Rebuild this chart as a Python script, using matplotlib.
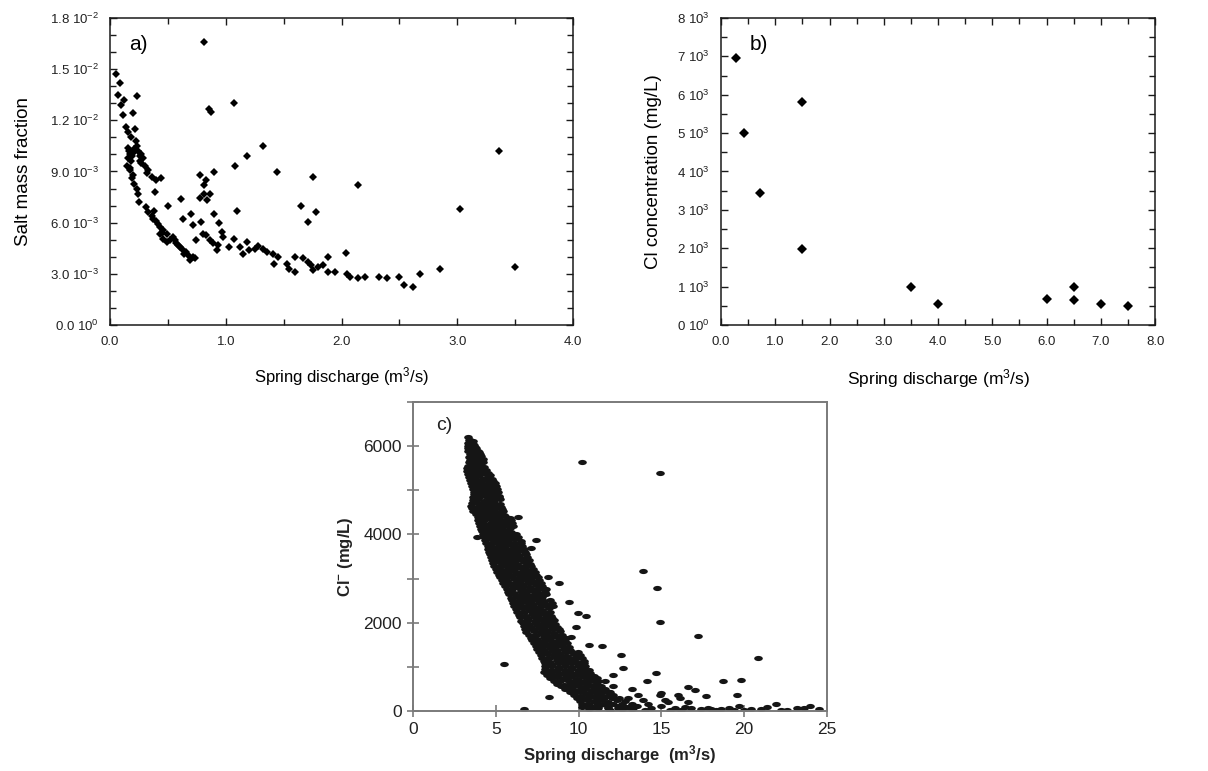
"""
Discharge vs. salinity scatter plots for the coastal karst spring.

  a) salt mass fraction (model)    b) Cl concentration (field samples)
  c) Cl- record over the whole monitoring period

Output: out.png
"""

import matplotlib.pyplot as plt
import numpy as np
from matplotlib.path import Path

plt.rcParams["font.family"] = ["Liberation Sans", "DejaVu Sans"]
plt.rcParams["mathtext.fontset"] = "custom"
plt.rcParams["mathtext.rm"] = "Liberation Sans"
plt.rcParams["mathtext.it"] = "Liberation Sans:italic"
plt.rcParams["mathtext.bf"] = "Liberation Sans:bold"

# ─────────────────────────────────────────────
# a) model: discharge (m3/s) vs salt mass fraction (x 1e-3)
# ─────────────────────────────────────────────
a_q = [
    0.055, 0.084, 0.069, 0.118, 0.098, 0.112, 0.23, 0.20, 0.135, 0.213,
    0.156, 0.18, 0.22, 0.23, 0.156, 0.17, 0.20, 0.256, 0.285, 0.156,
    0.150, 0.176, 0.30, 0.33, 0.20, 0.36, 0.44, 0.21, 0.24, 0.386,
    0.25, 0.31, 0.38, 0.36, 0.40, 0.43, 0.46, 0.49, 0.43, 0.46,
    0.49, 0.54, 0.56, 0.59, 0.62, 0.64, 0.69, 0.72, 0.73, 0.50,
    0.61, 0.63, 0.70, 0.72, 0.74, 0.78, 0.81, 0.83, 0.775, 0.81,
    0.86, 0.84, 0.90, 0.90, 0.79, 0.80, 0.83, 0.86, 0.89, 0.92,
    0.93, 0.94, 0.97, 0.98, 1.03, 1.07, 1.08, 1.10, 1.12, 1.15,
    1.18, 1.18, 1.20, 1.25, 1.28, 1.32, 1.32, 1.36, 1.41, 1.44,
    1.42, 1.45, 1.53, 1.55, 1.60, 1.60, 1.65, 1.71, 1.75, 1.78,
    1.67, 1.71, 1.74, 1.75, 1.80, 1.84, 1.88, 1.88, 1.94, 2.04,
    2.05, 2.07, 2.14, 2.14, 2.20, 2.32, 2.39, 2.50, 2.54, 2.62,
    2.68, 2.85, 3.02, 3.36, 3.50, 0.815, 0.855, 0.876, 1.07,
    0.16, 0.18, 0.19, 0.21, 0.24, 0.26, 0.27, 0.17, 0.19, 0.23,
    0.33, 0.37, 0.41, 0.45, 0.52, 0.57, 0.60, 0.66, 0.68, 0.27,
    0.32, 0.40,
]
a_salt_e3 = [
    14.7, 14.2, 13.5, 13.2, 12.9, 12.3, 13.45, 12.4, 11.6, 11.5,
    11.3, 11.0, 10.8, 10.5, 10.4, 10.0, 10.1, 9.9, 9.8, 9.8,
    9.35, 9.06, 9.35, 9.06, 8.77, 8.67, 8.6, 8.28, 7.7, 7.8,
    7.2, 6.9, 6.7, 6.4, 6.1, 5.75, 5.55, 5.36, 5.36, 5.07,
    4.87, 5.17, 4.97, 4.68, 4.48, 4.19, 3.8, 4.0, 3.9, 7.0,
    7.4, 6.2, 6.5, 5.85, 4.97, 8.8, 8.2, 8.5, 7.45, 7.7,
    7.65, 7.35, 8.97, 6.53, 6.04, 5.36, 5.26, 4.97, 4.78, 4.39,
    4.68, 5.95, 5.46, 5.17, 4.58, 5.07, 9.3, 6.7, 4.58, 4.19,
    4.87, 9.9, 4.39, 4.48, 4.62, 10.5, 4.48, 4.29, 4.19, 8.97,
    3.6, 4.0, 3.6, 3.3, 3.1, 4.0, 7.0, 6.04, 8.7, 6.63,
    3.9, 3.7, 3.5, 3.2, 3.4, 3.5, 4.0, 3.1, 3.1, 4.23,
    3.0, 2.83, 8.2, 2.73, 2.83, 2.79, 2.73, 2.79, 2.34, 2.2,
    3.0, 3.3, 6.8, 10.2, 3.42, 16.6, 12.67, 12.5, 13.0,
    10.2, 9.6, 9.9, 10.3, 10.2, 9.6, 10.0, 9.2, 8.6, 8.0,
    6.6, 6.2, 5.9, 5.4, 5.0, 4.8, 4.6, 4.3, 4.05, 9.5,
    8.9, 8.5,
]
a_yticks_e3 = [0, 3, 6, 9, 12, 15, 18]
a_yticklabels = [
    "0.0 10$^{0}$", "3.0 10$^{-3}$", "6.0 10$^{-3}$", "9.0 10$^{-3}$",
    "1.2 10$^{-2}$", "1.5 10$^{-2}$", "1.8 10$^{-2}$",
]
a_xticks = [0, 1, 2, 3, 4]
a_xticklabels = ["0.0", "1.0", "2.0", "3.0", "4.0"]

# ─────────────────────────────────────────────
# b) field samples: discharge (m3/s) vs Cl (mg/L)
# ─────────────────────────────────────────────
b_q = [0.27, 0.42, 0.71, 1.5, 1.5, 3.5, 4.0, 6.0, 6.5, 6.5, 7.0, 7.5]
b_cl = [6950, 5000, 3440, 5810, 1990, 985, 550, 680, 1000, 655, 550, 500]
b_yticks = [0, 1000, 2000, 3000, 4000, 5000, 6000, 7000, 8000]
b_yticklabels = ["0 10$^{0}$"] + [f"{k} 10$^{{3}}$" for k in range(1, 9)]
b_xticks = [0, 1, 2, 3, 4, 5, 6, 7, 8]
b_xticklabels = ["0.0", "1.0", "2.0", "3.0", "4.0", "5.0", "6.0", "7.0", "8.0"]

# ─────────────────────────────────────────────
# c) monitoring record: discharge (m3/s) vs Cl- (mg/L)
#    main band (row by row, top -> bottom), then scattered points
# ─────────────────────────────────────────────
c_q = [
    3.30, 3.45,
    3.38, 3.60,
    3.35, 3.55, 3.70,
    3.32, 3.48, 3.65, 3.82,
    3.30, 3.50, 3.72, 3.90,
    3.35, 3.55, 3.78, 3.98,
    3.42, 3.62, 3.85, 4.05,
    3.40, 3.58, 3.82, 4.10,
    3.45, 3.70, 3.95, 4.20,
    3.38, 3.62, 3.88, 4.12, 4.25,
    3.30, 3.55, 3.80, 4.05, 4.30,
    3.28, 3.45, 3.68, 3.92, 4.18, 4.42,
    3.25, 3.50, 3.75, 4.00, 4.30, 4.55,
    3.32, 3.58, 3.85, 4.10, 4.38, 4.65,
    3.40, 3.65, 3.95, 4.20, 4.50, 4.75,
    3.45, 3.72, 4.02, 4.30, 4.60, 4.85,
    3.50, 3.80, 4.10, 4.40, 4.70, 4.95,
    3.58, 3.88, 4.18, 4.48, 4.78, 5.02,
    3.65, 3.95, 4.25, 4.55, 4.85, 5.10,
    3.68, 3.98, 4.30, 4.60, 4.90, 5.15,
    3.70, 4.00, 4.35, 4.65, 4.95, 5.20,
    3.65, 3.98, 4.32, 4.62, 4.92, 5.22,
    3.60, 3.95, 4.30, 4.60, 4.90, 5.25,
    3.55, 3.90, 4.25, 4.58, 4.90, 5.28,
    3.50, 3.85, 4.20, 4.55, 4.90, 5.30,
    3.58, 3.92, 4.28, 4.62, 4.98, 5.38,
    3.65, 4.00, 4.35, 4.70, 5.05, 5.45,
    3.78, 4.10, 4.45, 4.78, 5.12, 5.50,
    3.90, 4.20, 4.55, 4.85, 5.20, 5.55, 5.85,
    3.95, 4.28, 4.62, 4.92, 5.28, 5.62, 5.92,
    4.00, 4.35, 4.70, 5.00, 5.35, 5.70, 6.00,
    4.05, 4.40, 4.75, 5.08, 5.42, 5.78, 6.05,
    4.10, 4.45, 4.80, 5.15, 5.50, 5.85,
    4.15, 4.50, 4.85, 5.20, 5.55, 5.90,
    4.20, 4.55, 4.90, 5.25, 5.60, 5.95, 6.20,
    4.28, 4.62, 4.98, 5.32, 5.68, 6.02, 6.35,
    4.35, 4.70, 5.05, 5.40, 5.75, 6.10, 6.50,
    4.42, 4.78, 5.12, 5.48, 5.82, 6.18, 6.55,
    4.50, 4.85, 5.20, 5.55, 5.90, 6.25, 6.60,
    4.55, 4.90, 5.25, 5.60, 5.95, 6.30, 6.68,
    4.60, 4.95, 5.30, 5.65, 6.00, 6.35, 6.75,
    4.65, 5.00, 5.38, 5.72, 6.08, 6.42, 6.82,
    4.70, 5.05, 5.45, 5.80, 6.15, 6.50, 6.90,
    4.78, 5.12, 5.52, 5.88, 6.22, 6.60, 6.98,
    4.85, 5.20, 5.60, 5.95, 6.30, 6.70, 7.05,
    4.92, 5.30, 5.68, 6.02, 6.40, 6.80, 7.15,
    5.00, 5.40, 5.75, 6.10, 6.50, 6.90, 7.25,
    5.10, 5.48, 5.82, 6.20, 6.58, 6.98, 7.35,
    5.20, 5.55, 5.90, 6.30, 6.65, 7.05, 7.45,
    5.28, 5.62, 6.00, 6.38, 6.75, 7.15, 7.52,
    5.35, 5.70, 6.10, 6.45, 6.85, 7.25, 7.60,
    5.45, 5.80, 6.20, 6.55, 6.95, 7.35, 7.70,
    5.55, 5.90, 6.30, 6.65, 7.05, 7.45, 7.80,
    5.65, 6.00, 6.40, 6.75, 7.15, 7.52, 7.90,
    5.75, 6.10, 6.50, 6.85, 7.25, 7.60, 8.00,
    5.82, 6.20, 6.58, 6.95, 7.35, 7.70, 8.05,
    5.90, 6.30, 6.65, 7.05, 7.45, 7.80,
    5.98, 6.38, 6.75, 7.15, 7.52, 7.90, 8.25,
    6.05, 6.45, 6.85, 7.25, 7.60, 8.00, 8.40,
    6.12, 6.52, 6.92, 7.32, 7.70, 8.10, 8.45,
    6.20, 6.60, 7.00, 7.40, 7.80, 8.20,
    6.30, 6.70, 7.10, 7.48, 7.88, 8.28,
    6.40, 6.80, 7.20, 7.55, 7.95, 8.35,
    6.48, 6.88, 7.28, 7.65, 8.02, 8.42,
    6.55, 6.95, 7.35, 7.75, 8.10, 8.50,
    6.62, 7.02, 7.42, 7.82, 8.20, 8.60,
    6.70, 7.10, 7.50, 7.90, 8.30, 8.70,
    6.78, 7.20, 7.60, 8.00, 8.40, 8.80,
    6.85, 7.30, 7.70, 8.10, 8.50, 8.90,
    6.98, 7.40, 7.80, 8.20, 8.60, 9.00,
    7.10, 7.50, 7.90, 8.30, 8.70, 9.10,
    7.20, 7.60, 8.00, 8.40, 8.80, 9.20,
    7.30, 7.70, 8.10, 8.50, 8.90, 9.30,
    7.40, 7.80, 8.20, 8.60, 9.00, 9.40,
    7.50, 7.90, 8.30, 8.70, 9.10, 9.50,
    7.60, 8.00, 8.40, 8.80, 9.20, 9.60, 9.95,
    7.70, 8.10, 8.50, 8.90, 9.30, 9.70, 10.10,
    7.80, 8.20, 8.60, 9.00, 9.40, 9.80, 10.20,
    7.90, 8.30, 8.70, 9.10, 9.50, 9.90, 10.30,
    7.95, 8.35, 8.75, 9.15, 9.55, 9.95, 10.35,
    8.00, 8.40, 8.80, 9.20, 9.60, 10.00, 10.40,
    7.95, 8.35, 8.75, 9.15, 9.55, 9.95, 10.35, 10.60,
    7.90, 8.30, 8.70, 9.10, 9.50, 9.90, 10.30, 10.70,
    8.10, 8.50, 8.90, 9.30, 9.70, 10.10, 10.50, 10.90,
    8.30, 8.70, 9.10, 9.50, 9.90, 10.30, 10.70, 11.10,
    8.50, 8.90, 9.30, 9.70, 10.10, 10.50, 10.90, 11.20,
    8.70, 9.10, 9.50, 9.90, 10.30, 10.70, 11.10,
    8.95, 9.35, 9.75, 10.15, 10.55, 10.95, 11.35,
    9.20, 9.60, 10.00, 10.40, 10.80, 11.20, 11.60,
    9.45, 9.85, 10.25, 10.65, 11.05, 11.45, 11.85,
    9.70, 10.10, 10.50, 10.90, 11.30, 11.70, 12.10,
    9.90, 10.30, 10.70, 11.15, 11.55, 12.00, 12.45,
    10.10, 10.50, 10.90, 11.40, 11.80, 12.30, 12.80,
    10.20, 10.65, 11.10, 11.60, 12.10, 12.65, 13.20,
    10.30, 10.80, 11.30, 11.80, 12.40, 13.00, 13.50,
    10.60, 11.20, 11.90, 12.60, 13.20,
    # scattered points
    10.22, 14.9, 3.84, 13.9, 14.76, 14.9, 17.19, 20.84, 5.5, 8.23,
    6.73, 12.57, 12.7, 14.1, 14.7, 18.69, 19.82, 19.54, 17.69, 17.03,
    16.63, 15.0, 16.0, 11.41, 10.62, 9.98, 10.46, 9.82, 9.42, 8.82,
    8.13, 7.43, 7.13, 6.33, 8.03, 9.22, 9.52, 12.1,
    10.2, 11.0, 11.8, 12.4, 12.8, 13.3, 13.9, 14.4, 15.4, 15.8,
    16.4, 16.8, 17.4, 18.0, 18.6, 19.1, 19.7, 20.4, 21.0, 21.4,
    21.9, 23.2, 23.6, 24.0, 24.5, 15.2, 16.1, 14.9, 13.6, 13.2,
    12.1, 11.6, 11.9, 13.0, 14.2, 15.0, 16.6, 17.8, 18.3, 19.4,
    20.0, 22.2, 22.6, 14.0, 15.5, 16.2,
]
c_cl = [
    6200, 6150,
    6135, 6120,
    6070, 6100, 6020,
    6010, 5990, 6040, 5960,
    5960, 5930, 5980, 5880,
    5900, 5880, 5910, 5860,
    5820, 5850, 5800, 5830,
    5760, 5780, 5750, 5770,
    5690, 5720, 5660, 5700,
    5630, 5610, 5640, 5620, 5650,
    5560, 5590, 5540, 5570, 5520,
    5500, 5480, 5510, 5490, 5500, 5470,
    5430, 5410, 5450, 5400, 5440, 5390,
    5360, 5380, 5350, 5370, 5360, 5340,
    5300, 5280, 5320, 5260, 5300, 5250,
    5230, 5240, 5220, 5250, 5230, 5210,
    5170, 5150, 5190, 5140, 5180, 5160,
    5100, 5110, 5090, 5120, 5100, 5090,
    5040, 5060, 5020, 5050, 5010, 5030,
    4970, 4980, 4960, 4990, 4970, 4950,
    4910, 4890, 4930, 4900, 4920, 4880,
    4850, 4840, 4860, 4830, 4850, 4840,
    4780, 4800, 4760, 4790, 4770, 4810,
    4710, 4720, 4700, 4730, 4710, 4700,
    4650, 4630, 4670, 4640, 4660, 4620,
    4590, 4570, 4600, 4580, 4590, 4570,
    4520, 4540, 4500, 4530, 4510, 4540,
    4460, 4450, 4470, 4440, 4460, 4450,
    4390, 4410, 4380, 4400, 4370, 4410, 4380,
    4330, 4320, 4340, 4310, 4330, 4320, 4330,
    4260, 4240, 4270, 4250, 4280, 4240, 4260,
    4190, 4200, 4180, 4210, 4190, 4200, 4180,
    4130, 4150, 4120, 4140, 4110, 4150,
    4070, 4060, 4080, 4050, 4070, 4060,
    4000, 3980, 4020, 3990, 4010, 3970, 4000,
    3940, 3930, 3950, 3920, 3940, 3930, 3940,
    3870, 3890, 3850, 3880, 3860, 3890, 3850,
    3810, 3800, 3820, 3790, 3810, 3800, 3810,
    3740, 3720, 3760, 3730, 3750, 3720, 3740,
    3680, 3670, 3690, 3660, 3680, 3670, 3680,
    3610, 3630, 3600, 3620, 3590, 3630, 3600,
    3550, 3540, 3560, 3530, 3550, 3540, 3550,
    3480, 3460, 3500, 3470, 3490, 3460, 3480,
    3420, 3410, 3430, 3400, 3420, 3410, 3420,
    3350, 3370, 3340, 3360, 3330, 3370, 3340,
    3290, 3280, 3300, 3270, 3290, 3280, 3290,
    3220, 3200, 3240, 3210, 3230, 3200, 3220,
    3160, 3150, 3170, 3140, 3160, 3150, 3160,
    3090, 3110, 3080, 3100, 3070, 3110, 3090,
    3030, 3020, 3040, 3010, 3030, 3020, 3030,
    2960, 2940, 2980, 2950, 2970, 2940, 2960,
    2900, 2890, 2910, 2880, 2900, 2890, 2900,
    2830, 2850, 2820, 2840, 2810, 2850, 2830,
    2770, 2760, 2780, 2750, 2770, 2760, 2770,
    2700, 2680, 2720, 2690, 2710, 2680, 2700,
    2640, 2630, 2650, 2620, 2640, 2630, 2640,
    2570, 2590, 2560, 2580, 2550, 2590,
    2510, 2500, 2520, 2490, 2510, 2500, 2510,
    2440, 2420, 2460, 2430, 2450, 2420, 2440,
    2380, 2370, 2390, 2360, 2380, 2370, 2380,
    2310, 2330, 2300, 2320, 2290, 2330,
    2250, 2240, 2260, 2230, 2250, 2240,
    2180, 2160, 2200, 2170, 2190, 2160,
    2120, 2110, 2130, 2100, 2120, 2110,
    2050, 2070, 2040, 2060, 2030, 2070,
    1990, 1980, 2000, 1970, 1990, 1980,
    1920, 1900, 1940, 1910, 1930, 1900,
    1860, 1850, 1870, 1840, 1860, 1850,
    1790, 1810, 1780, 1800, 1770, 1810,
    1730, 1720, 1740, 1710, 1730, 1720,
    1660, 1640, 1680, 1650, 1670, 1640,
    1600, 1590, 1610, 1580, 1600, 1590,
    1530, 1550, 1520, 1540, 1510, 1550,
    1470, 1460, 1480, 1450, 1470, 1460,
    1400, 1380, 1420, 1390, 1410, 1380,
    1340, 1330, 1350, 1320, 1340, 1330, 1340,
    1270, 1290, 1260, 1280, 1250, 1290, 1270,
    1210, 1200, 1220, 1190, 1210, 1200, 1210,
    1140, 1120, 1160, 1130, 1150, 1120, 1140,
    1080, 1070, 1090, 1060, 1080, 1070, 1080,
    1010, 1030, 1000, 1020, 990, 1030, 1010,
    950, 940, 960, 930, 950, 940, 950, 930,
    880, 860, 900, 870, 890, 860, 880, 850,
    820, 810, 830, 800, 820, 810, 820, 800,
    750, 770, 740, 760, 730, 770, 750, 740,
    690, 680, 700, 670, 690, 680, 690, 670,
    620, 600, 640, 610, 630, 600, 620,
    560, 550, 570, 540, 560, 550, 560,
    490, 510, 480, 500, 470, 510, 490,
    430, 420, 440, 410, 430, 420, 430,
    360, 340, 380, 350, 370, 340, 360,
    300, 290, 310, 280, 300, 290, 300,
    230, 250, 220, 240, 210, 250, 230,
    170, 160, 180, 150, 170, 160, 170,
    110, 90, 130, 100, 120, 90, 110,
    40, 60, 30, 50, 40,
    # scattered points
    5645, 5396, 3947, 3177, 2777, 2023, 1698, 1192, 1057, 309,
    45, 1268, 966, 687, 853, 687, 702, 362, 347, 475,
    551, 400, 362, 1472, 1494, 2226, 2151, 1894, 2475, 2906,
    3026, 3872, 3683, 4385, 2755, 1645, 1683, 815,
    100, 100, 60, 60, 100, 60, 250, 60, 210, 60,
    100, 60, 45, 45, 45, 60, 120, 45, 45, 100,
    160, 60, 60, 120, 45, 250, 290, 360, 360, 510,
    560, 690, 420, 300, 150, 120, 200, 60, 30, 30,
    20, 30, 20, 20, 30, 20,
]
c_xticks = [0, 5, 10, 15, 20, 25]
c_yticks = [0, 2000, 4000, 6000]

# ─────────────────────────────────────────────
# 共通スタイル
# ─────────────────────────────────────────────
AX_COLOR = "#1a1a1a"
C_FRAME = "#7a7a7a"

# 横長の楕円マーカー (c パネル用)
_circle = Path.unit_circle()
ELLIPSE = Path(_circle.vertices * np.array([1.0, 0.6]), _circle.codes)


def style_box_axes(ax):
    """Inward ticks on all four sides, thin dark frame."""
    for sp in ax.spines.values():
        sp.set_color(AX_COLOR)
        sp.set_linewidth(1.1)
    ax.tick_params(
        which="both", direction="in", top=True, right=True,
        color=AX_COLOR, width=1.0, labelsize=9.5, pad=8,
        labelcolor="#222222",
    )
    ax.tick_params(which="major", length=5)
    ax.tick_params(which="minor", length=4)


def panel_a(fig):
    ax = fig.add_axes([0.0911, 0.5785, 0.3833, 0.3982])
    ax.plot(a_q, np.array(a_salt_e3) * 1e-3, "D", color="black",
            ms=4.3, mew=0, linestyle="none")
    ax.set_xlim(0, 4)
    ax.set_ylim(0, 0.018)
    ax.set_xticks(a_xticks, a_xticklabels)
    ax.set_xticks(np.arange(0, 4.01, 0.5), minor=True)
    ax.set_yticks(np.array(a_yticks_e3) * 1e-3, a_yticklabels)
    ax.set_yticks(np.arange(0, 0.01801, 0.001), minor=True)
    style_box_axes(ax)
    ax.set_xlabel("Spring discharge (m$^3$/s)", fontsize=12, labelpad=12)
    ax.set_ylabel("Salt mass fraction", fontsize=13.5, labelpad=13)
    ax.text(0.042, 0.915, "a)", transform=ax.transAxes, fontsize=15,
            va="center", ha="left")


def panel_b(fig):
    ax = fig.add_axes([0.5969, 0.5785, 0.3593, 0.3982])
    ax.plot(b_q, b_cl, "D", color="black", ms=4.6, mew=0, linestyle="none")
    ax.set_xlim(0, 8)
    ax.set_ylim(0, 8000)
    ax.set_xticks(b_xticks, b_xticklabels)
    ax.set_xticks(np.arange(0, 8.01, 0.5), minor=True)
    ax.set_yticks(b_yticks, b_yticklabels)
    ax.set_yticks(np.arange(0, 8001, 500), minor=True)
    style_box_axes(ax)
    ax.set_xlabel("Spring discharge (m$^3$/s)", fontsize=12.5, labelpad=14)
    ax.set_ylabel("Cl concentration (mg/L)", fontsize=13.5, labelpad=11)
    ax.text(0.065, 0.915, "b)", transform=ax.transAxes, fontsize=15,
            va="center", ha="left")


def panel_c(fig):
    ax = fig.add_axes([0.3419, 0.0778, 0.3427, 0.4008])
    ax.plot(c_q, c_cl, linestyle="none", marker=ELLIPSE, ms=6.2,
            color="#151515", mew=0)
    ax.set_xlim(0, 25)
    ax.set_ylim(0, 7000)
    ax.set_xticks(c_xticks, [str(v) for v in c_xticks])
    ax.set_yticks(c_yticks, [str(v) for v in c_yticks])
    ax.set_yticks(np.arange(0, 7001, 1000), minor=True)
    for sp in ax.spines.values():
        sp.set_color(C_FRAME)
        sp.set_linewidth(1.4)
    ax.tick_params(which="both", direction="inout", color=C_FRAME,
                   width=1.2, length=9, labelsize=12.5,
                   labelcolor="#222222")
    ax.tick_params(axis="y", which="minor", length=9)
    ax.set_xlabel("Spring discharge  (m$^\\mathbf{3}$/s)", fontsize=12,
                  fontweight="bold", color="#222222", labelpad=4)
    ax.set_ylabel("Cl$^{\\mathbf{-}}$ (mg/L)", fontsize=12,
                  fontweight="bold", color="#222222", labelpad=6)
    ax.text(0.055, 0.925, "c)", transform=ax.transAxes, fontsize=14,
            va="center", ha="left", color="#222222")


def main():
    fig = plt.figure(figsize=(12.08, 7.71), dpi=100)
    fig.patch.set_facecolor("white")
    panel_a(fig)
    panel_b(fig)
    panel_c(fig)
    fig.savefig("out.png", dpi=100)
    plt.close(fig)


if __name__ == "__main__":
    main()
